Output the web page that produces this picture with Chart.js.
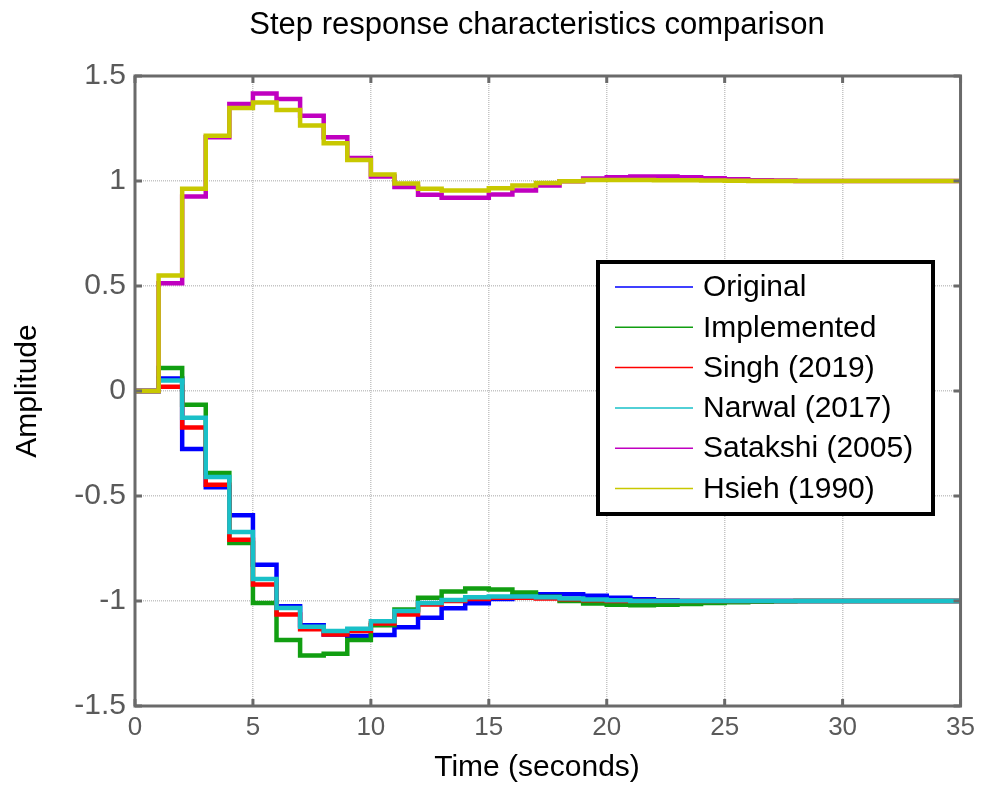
<!DOCTYPE html>
<html>
<head>
<meta charset="utf-8">
<script src="https://cdn.jsdelivr.net/npm/chart.js@4.4.0/dist/chart.umd.min.js"></script>
<style>
  html, body { margin: 0; padding: 0; background: #fff; }
</style>
</head>
<body>
<canvas id="grafico-Paso" width="981" height="787"></canvas>
<script>
// Tiempo (s), una muestra por segundo (respuesta escalonada)
const tiempo = [0,1,2,3,4,5,6,7,8,9,10,11,12,13,14,15,16,17,18,19,20,21,22,23,24,25,26,27,28,29,30,31,32,33,34,35];

const original    = [0, 0.06, -0.276, -0.458, -0.592, -0.827, -1.025, -1.116, -1.159, -1.167, -1.162, -1.125, -1.08, -1.035, -1.011, -0.99, -0.975, -0.968, -0.968, -0.975, -0.985, -0.992, -0.997, -1.0, -1.0, -1.0, -1.0, -1.0, -1.0, -1.0, -1.0, -1.0, -1.0, -1.0, -1.0, -1.0];
const implementado = [0, 0.11, -0.066, -0.391, -0.724, -1.01, -1.186, -1.259, -1.251, -1.186, -1.116, -1.04, -0.985, -0.955, -0.94, -0.945, -0.96, -0.98, -1.0, -1.012, -1.018, -1.02, -1.018, -1.014, -1.01, -1.006, -1.003, -1.001, -1.0, -1.0, -1.0, -1.0, -1.0, -1.0, -1.0, -1.0];
const singh       = [0, 0.02, -0.174, -0.447, -0.708, -0.922, -1.064, -1.135, -1.159, -1.143, -1.107, -1.064, -1.017, -1.0, -0.99, -0.985, -0.985, -0.988, -0.992, -0.996, -1.0, -1.0, -1.0, -1.0, -1.0, -1.0, -1.0, -1.0, -1.0, -1.0, -1.0, -1.0, -1.0, -1.0, -1.0, -1.0];
const narwal      = [0, 0.05, -0.127, -0.41, -0.671, -0.895, -1.033, -1.123, -1.143, -1.132, -1.096, -1.048, -1.01, -0.995, -0.982, -0.978, -0.978, -0.982, -0.988, -0.993, -0.997, -1.0, -1.0, -1.0, -1.0, -1.0, -1.0, -1.0, -1.0, -1.0, -1.0, -1.0, -1.0, -1.0, -1.0, -1.0];
const satakshi    = [0, 0.513, 0.926, 1.208, 1.367, 1.417, 1.39, 1.311, 1.208, 1.11, 1.021, 0.971, 0.934, 0.92, 0.92, 0.936, 0.955, 0.979, 0.999, 1.012, 1.018, 1.022, 1.022, 1.018, 1.013, 1.008, 1.004, 1.002, 1.0, 1.0, 1.0, 1.0, 1.0, 1.0, 1.0, 1.0];
const hsieh       = [0, 0.55, 0.963, 1.216, 1.348, 1.374, 1.338, 1.264, 1.18, 1.1, 1.031, 0.988, 0.963, 0.955, 0.955, 0.966, 0.979, 0.991, 0.999, 1.005, 1.005, 1.005, 1.004, 1.003, 1.002, 1.001, 1.0, 1.0, 1.0, 1.0, 1.0, 1.0, 1.0, 1.0, 1.0, 1.0];

const nombres = ["Original", "Implemented", "Singh (2019)", "Narwal (2017)", "Satakshi (2005)", "Hsieh (1990)"];
const colores = ["#0000ff", "#119e11", "#ff0000", "#19c0c8", "#c000c0", "#c8c800"];
const series = [original, implementado, singh, narwal, satakshi, hsieh];

const ticksX = [0, 5, 10, 15, 20, 25, 30, 35];
const ticksY = [-1.5, -1, -0.5, 0, 0.5, 1, 1.5];

const fuente = "'Liberation Sans', Arial, Helvetica, sans-serif";

// Marco, marcas internas, títulos y leyenda al estilo MATLAB
const marco = {
  id: "marco",
  beforeDraw(chart) {
    const ctx = chart.ctx;
    ctx.save();
    ctx.fillStyle = "#fff";
    ctx.fillRect(0, 0, chart.width, chart.height);
    ctx.restore();
  },
  afterDraw(chart) {
    const { ctx, chartArea: a, scales: { x, y } } = chart;
    ctx.save();
    ctx.strokeStyle = "#6a6a6a";
    ctx.lineWidth = 3;
    ctx.beginPath();
    ticksX.forEach(v => {
      const px = x.getPixelForValue(v);
      ctx.moveTo(px, a.bottom); ctx.lineTo(px, a.bottom - 7);
      ctx.moveTo(px, a.top); ctx.lineTo(px, a.top + 7);
    });
    ticksY.forEach(v => {
      const py = y.getPixelForValue(v);
      ctx.moveTo(a.left, py); ctx.lineTo(a.left + 7, py);
      ctx.moveTo(a.right, py); ctx.lineTo(a.right - 7, py);
    });
    ctx.stroke();
    ctx.strokeRect(a.left, a.top, a.right - a.left, a.bottom - a.top);

    // títulos
    ctx.fillStyle = "#000";
    ctx.textAlign = "center";
    ctx.textBaseline = "middle";
    ctx.font = "31px " + fuente;
    ctx.fillText("Step response characteristics comparison", 537, 25);
    ctx.font = "30px " + fuente;
    ctx.fillText("Time (seconds)", 537, 768);

    // leyenda
    const lx = 598, ly = 262, lw = 335, lh = 252;
    ctx.fillStyle = "#fff";
    ctx.fillRect(lx, ly, lw, lh);
    ctx.strokeStyle = "#000";
    ctx.lineWidth = 4;
    ctx.strokeRect(lx, ly, lw, lh);
    ctx.font = "30px " + fuente;
    ctx.textAlign = "left";
    chart.data.datasets.forEach((ds, i) => {
      const cy = 287 + i * 40.3;
      ctx.strokeStyle = ds.borderColor;
      ctx.lineWidth = 1.5;
      ctx.beginPath();
      ctx.moveTo(615, cy); ctx.lineTo(693, cy);
      ctx.stroke();
      ctx.fillStyle = "#000";
      ctx.fillText(ds.label, 703, cy + 1);
    });
    ctx.restore();
  }
};

new Chart(document.getElementById("grafico-Paso").getContext("2d"), {
  type: "line",
  data: {
    datasets: series.map((s, i) => ({
      label: nombres[i],
      data: tiempo.map((t, k) => ({ x: t, y: s[k] })),
      borderColor: colores[i],
      backgroundColor: colores[i],
      borderWidth: 4.5,
      pointRadius: 0,
      stepped: true,
      fill: false,
      order: series.length - i
    }))
  },
  options: {
    responsive: false,
    animation: false,
    layout: { padding: { top: 76, right: 19, left: 0, bottom: 0 } },
    plugins: {
      legend: { display: false },
      title: { display: false },
      tooltip: { enabled: false }
    },
    scales: {
      x: {
        type: "linear",
        min: 0,
        max: 35,
        afterFit: s => { s.height = 81; },
        afterBuildTicks: s => { s.ticks = ticksX.map(v => ({ value: v })); },
        grid: { color: "#c4c4c4", lineWidth: 1.5, drawTicks: false },
        border: { display: false, dash: [1, 1] },
        ticks: {
          color: "#5a5a5a",
          padding: 6,
          font: { family: fuente, size: 26 },
          maxRotation: 0,
          callback: v => String(v)
        }
      },
      y: {
        type: "linear",
        min: -1.5,
        max: 1.5,
        afterFit: s => { s.width = 135; },
        afterBuildTicks: s => { s.ticks = ticksY.map(v => ({ value: v })); },
        grid: { color: "#c4c4c4", lineWidth: 1.5, drawTicks: false },
        border: { display: false, dash: [1, 1] },
        ticks: {
          color: "#5a5a5a",
          padding: 9,
          font: { family: fuente, size: 30 },
          callback: v => String(v)
        },
        title: {
          display: true,
          text: "Amplitude",
          color: "#000",
          font: { family: fuente, size: 30 },
          padding: { top: 10, bottom: 0 }
        }
      }
    }
  },
  plugins: [marco]
});
</script>
</body>
</html>
